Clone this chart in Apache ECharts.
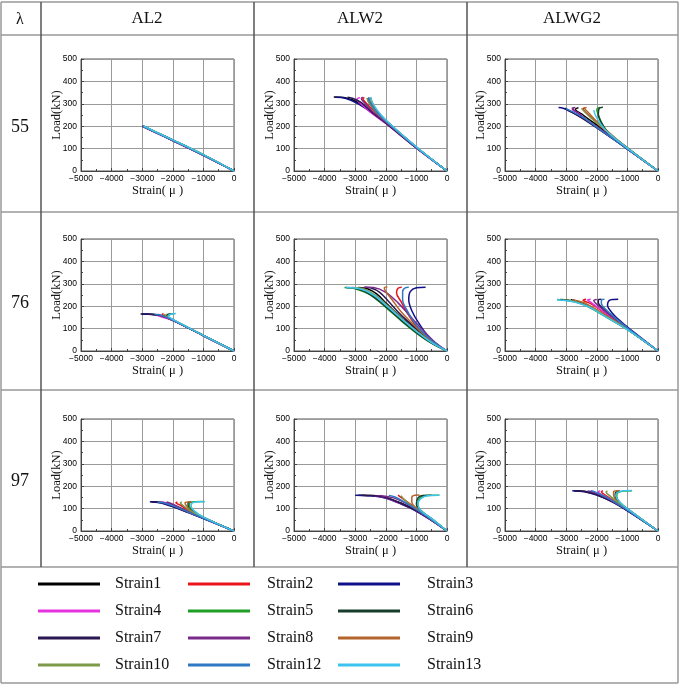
<!DOCTYPE html>
<html>
<head>
<meta charset="utf-8">
<script src="https://cdn.jsdelivr.net/npm/echarts@6/dist/echarts.min.js"></script>
<style>
html, body { margin: 0; padding: 0; background: #fff; }
#main { width: 680px; height: 692px; }
</style>
</head>
<body>
<div id="main"></div>
<script>
// 凡例と色
var strainNames = ['Strain1', 'Strain2', 'Strain3', 'Strain4', 'Strain5', 'Strain6',
  'Strain7', 'Strain8', 'Strain9', 'Strain10', 'Strain12', 'Strain13'];
var strainColors = ['#000000', '#e8151b', '#10108a', '#e633e0', '#1e9e24', '#173d2c',
  '#2a1650', '#7b2a8c', '#b4642c', '#7c9a48', '#2e78c4', '#3cc4ee'];
var specimens = ['AL2', 'ALW2', 'ALWG2'];
var lambdas = ['55', '76', '97'];
var strainRange = [-5000, 0];
var loadRange = [0, 500];

// 各グラフのデータ [strain(μ), load(kN)]
var al2_55 = [
  [[0,0],[-1000,71],[-2000,137],[-2500,169],[-2980,200]],
  [[0,0],[-1000,72],[-2000,138],[-2500,170],[-2960,200]],
  [[0,0],[-1000,70],[-2000,136],[-2500,168],[-3000,200]],
  [[0,0],[-1000,70],[-2000,135],[-2500,167],[-2990,199]],
  [[0,0],[-1000,73],[-2000,139],[-2500,171],[-2950,200]],
  [[0,0],[-1000,72],[-2000,139],[-2500,170],[-2960,200]],
  [[0,0],[-1000,70],[-2000,136],[-2500,168],[-2990,200]],
  [[0,0],[-1000,71],[-2000,137],[-2500,169],[-2980,200]],
  [[0,0],[-1000,72],[-2000,138],[-2500,170],[-2970,200]],
  [[0,0],[-1000,72],[-2000,138],[-2500,170],[-2970,200]],
  [[0,0],[-1000,71],[-2000,137],[-2500,169],[-2980,200]],
  [[0,0],[-1000,73],[-2000,139],[-2500,171],[-2950,201]]
];
var alw2_55 = [
  [[0,0],[-1000,104],[-2000,218],[-2400,258],[-2900,305],[-3300,326],[-3700,330]],
  [[0,0],[-1000,106],[-2000,222],[-2400,270],[-2650,305],[-2750,322],[-2700,328]],
  [[0,0],[-1000,103],[-2000,215],[-2400,255],[-2900,300],[-3300,324],[-3650,329]],
  [[0,0],[-1000,102],[-2000,212],[-2500,262],[-2800,298],[-2950,320],[-2850,328]],
  [[0,0],[-1000,107],[-2000,225],[-2300,268],[-2500,305],[-2560,326]],
  [[0,0],[-1000,106],[-2000,224],[-2350,270],[-2550,305],[-2600,325]],
  [[0,0],[-1000,103],[-2000,214],[-2450,262],[-2800,305],[-3100,325],[-3250,329]],
  [[0,0],[-1000,104],[-2000,218],[-2450,268],[-2700,305],[-2800,324],[-2750,330]],
  [[0,0],[-1000,107],[-2000,226],[-2300,272],[-2450,305],[-2500,328]],
  [[0,0],[-1000,106],[-2000,222],[-2350,268],[-2550,305],[-2620,326]],
  [[0,0],[-1000,105],[-2000,224],[-2350,272],[-2520,308],[-2560,330]],
  [[0,0],[-1000,108],[-2000,228],[-2300,275],[-2450,310],[-2480,330]]
];
var alwg2_55 = [
  [[0,0],[-1000,100],[-1800,185],[-2200,225],[-2500,255],[-2700,275],[-2600,282]],
  [[0,0],[-1000,101],[-1800,190],[-2100,228],[-2350,260],[-2450,278],[-2380,283]],
  [[0,0],[-1000,98],[-2000,195],[-2500,240],[-2900,268],[-3100,280],[-3250,283]],
  [[0,0],[-1000,99],[-1900,185],[-2300,225],[-2600,258],[-2800,275],[-2750,281]],
  [[0,0],[-1000,103],[-1600,170],[-1800,205],[-1950,250],[-2000,275],[-1900,284]],
  [[0,0],[-1000,103],[-1650,175],[-1850,215],[-1950,255],[-1920,280],[-1800,285]],
  [[0,0],[-1000,98],[-2000,192],[-2500,237],[-2850,265],[-3050,280]],
  [[0,0],[-1000,99],[-1900,188],[-2350,230],[-2650,262],[-2800,280],[-2700,283]],
  [[0,0],[-1000,102],[-1800,195],[-2100,235],[-2300,265],[-2400,280],[-2330,284]],
  [[0,0],[-1000,101],[-1800,192],[-2150,232],[-2400,265],[-2500,280]],
  [[0,0],[-1000,99],[-2000,195],[-2400,235],[-2800,265],[-3000,278]],
  [[0,0],[-1000,102],[-1700,180],[-1900,215],[-2050,250],[-2100,272]]
];
var al2_76 = [
  [[0,0],[-1000,69],[-2000,137],[-2400,158],[-2700,164],[-3050,165]],
  [[0,0],[-1000,69],[-2000,138],[-2300,155],[-2350,163],[-2300,167]],
  [[0,0],[-1000,68],[-2000,137],[-2400,158],[-2800,164],[-3000,165]],
  [[0,0],[-1000,68],[-2000,136],[-2400,154],[-2500,160],[-2450,165]],
  [[0,0],[-1000,70],[-2000,140],[-2150,155],[-2100,163],[-1950,166]],
  [[0,0],[-1000,70],[-2000,140],[-2200,156],[-2150,164],[-2050,166]],
  [[0,0],[-1000,68],[-2000,137],[-2400,158],[-2900,165]],
  [[0,0],[-1000,69],[-2000,137],[-2350,156],[-2450,162]],
  [[0,0],[-1000,70],[-2000,139],[-2250,157],[-2300,164]],
  [[0,0],[-1000,70],[-2000,139],[-2250,157],[-2200,165]],
  [[0,0],[-1000,69],[-2000,138],[-2350,158],[-2600,164]],
  [[0,0],[-1000,70],[-2000,141],[-2150,157],[-2050,165],[-1900,167]]
];
var alw2_76 = [
  [[0,0],[-500,40],[-1000,95],[-1500,150],[-2000,215],[-2300,255],[-2600,278],[-2900,284]],
  [[0,0],[-500,45],[-1000,110],[-1300,170],[-1500,220],[-1650,260],[-1600,280],[-1480,285]],
  [[0,0],[-500,48],[-900,120],[-1150,180],[-1250,230],[-1200,265],[-1000,282],[-700,285]],
  [[0,0],[-500,36],[-1000,85],[-1500,140],[-2000,200],[-2500,255],[-2900,280],[-3100,284]],
  [[0,0],[-500,34],[-1000,80],[-1500,135],[-2000,195],[-2500,250],[-3000,278],[-3350,284]],
  [[0,0],[-500,35],[-1000,82],[-1500,138],[-2000,198],[-2500,252],[-2900,277],[-3300,284]],
  [[0,0],[-500,42],[-1000,100],[-1500,160],[-1900,220],[-2200,262],[-2500,282],[-2700,285]],
  [[0,0],[-400,40],[-800,95],[-1200,155],[-1600,215],[-2000,262],[-2400,283],[-2700,285]],
  [[0,0],[-500,44],[-1000,105],[-1500,175],[-1800,230],[-2000,265],[-2050,282],[-1950,286]],
  [[0,0],[-500,38],[-1000,90],[-1500,148],[-2000,210],[-2400,255],[-2800,280],[-3200,284]],
  [[0,0],[-500,47],[-1000,115],[-1300,180],[-1450,230],[-1450,265],[-1350,283],[-1250,285]],
  [[0,0],[-500,37],[-1000,88],[-1500,145],[-2000,205],[-2400,250],[-2800,276],[-3300,283]]
];
var alwg2_76 = [
  [[0,0],[-1000,97],[-1600,150],[-2000,180],[-2400,208],[-2700,225],[-2850,229]],
  [[0,0],[-1000,99],[-1600,155],[-1900,185],[-2200,212],[-2450,227],[-2350,231]],
  [[0,0],[-800,85],[-1200,130],[-1500,170],[-1650,205],[-1600,225],[-1450,230],[-1300,231]],
  [[0,0],[-1000,100],[-1600,158],[-1950,192],[-2200,218],[-2300,228],[-2200,231]],
  [[0,0],[-1000,95],[-1800,160],[-2200,192],[-2600,215],[-3000,226],[-3300,230]],
  [[0,0],[-1000,96],[-1800,162],[-2200,195],[-2600,217],[-2900,227],[-3200,230]],
  [[0,0],[-1000,102],[-1500,155],[-1800,190],[-1950,215],[-1950,228],[-1850,231]],
  [[0,0],[-1000,101],[-1500,152],[-1800,185],[-2000,208],[-2100,225],[-2000,230]],
  [[0,0],[-1000,98],[-1700,158],[-2100,192],[-2400,214],[-2700,226],[-2800,229]],
  [[0,0],[-1000,96],[-1800,163],[-2300,200],[-2700,220],[-3100,228]],
  [[0,0],[-1000,103],[-1400,148],[-1700,185],[-1850,212],[-1850,227],[-1750,231]],
  [[0,0],[-1000,95],[-1800,160],[-2200,193],[-2700,218],[-3300,229]]
];
var al2_97 = [
  [[0,0],[-1000,58],[-1500,85],[-1800,105],[-2200,125],[-2700,131]],
  [[0,0],[-1000,60],[-1500,92],[-1750,115],[-1900,126],[-1850,130]],
  [[0,0],[-1000,56],[-1500,82],[-2000,108],[-2400,125],[-2750,131]],
  [[0,0],[-1000,57],[-1500,84],[-1900,108],[-2200,124],[-2400,129]],
  [[0,0],[-1000,62],[-1300,88],[-1450,110],[-1450,125],[-1300,131],[-1000,132]],
  [[0,0],[-1000,61],[-1350,88],[-1500,110],[-1500,127],[-1400,130]],
  [[0,0],[-1000,56],[-1500,83],[-2000,110],[-2400,127],[-2700,131]],
  [[0,0],[-1000,58],[-1500,86],[-1850,110],[-2100,125],[-2200,129]],
  [[0,0],[-1000,61],[-1400,90],[-1550,112],[-1600,125],[-1500,130],[-1400,129]],
  [[0,0],[-1000,60],[-1400,88],[-1650,112],[-1750,126],[-1700,130]],
  [[0,0],[-1000,57],[-1500,85],[-1950,110],[-2300,126],[-2500,130]],
  [[0,0],[-1000,62],[-1300,90],[-1400,112],[-1350,127],[-1150,131],[-950,131]]
];
var alw2_97 = [
  [[0,0],[-500,48],[-1000,92],[-1500,125],[-2000,150],[-2500,159],[-2900,160]],
  [[0,0],[-500,52],[-1000,100],[-1300,130],[-1500,150],[-1600,160]],
  [[0,0],[-500,46],[-1000,88],[-1500,120],[-2000,146],[-2500,157],[-3000,160]],
  [[0,0],[-500,47],[-1000,90],[-1500,122],[-2000,148],[-2300,157],[-2400,159]],
  [[0,0],[-500,55],[-800,85],[-950,115],[-900,145],[-700,158],[-400,160],[-250,160]],
  [[0,0],[-500,54],[-850,90],[-1000,120],[-950,148],[-800,159],[-500,160]],
  [[0,0],[-500,47],[-1000,90],[-1500,123],[-2000,149],[-2400,158],[-2800,160]],
  [[0,0],[-500,49],[-1000,95],[-1400,128],[-1800,150],[-2200,159]],
  [[0,0],[-500,53],[-1000,103],[-1150,130],[-1150,150],[-1050,160],[-900,161]],
  [[0,0],[-500,51],[-1000,98],[-1300,128],[-1450,148],[-1500,158]],
  [[0,0],[-500,50],[-1000,96],[-1400,130],[-1700,152],[-1900,159]],
  [[0,0],[-500,55],[-850,90],[-950,118],[-850,145],[-600,158],[-250,160]]
];
var alwg2_97 = [
  [[0,0],[-1000,92],[-1500,133],[-2000,163],[-2400,177],[-2750,180]],
  [[0,0],[-1000,96],[-1500,140],[-1750,163],[-1850,175],[-1800,180]],
  [[0,0],[-1000,90],[-1500,130],[-2000,160],[-2400,175],[-2800,180]],
  [[0,0],[-1000,94],[-1500,137],[-1800,160],[-1950,174],[-1900,180]],
  [[0,0],[-1000,100],[-1250,128],[-1350,155],[-1300,172],[-1100,179],[-850,180]],
  [[0,0],[-1000,99],[-1300,130],[-1400,155],[-1380,172],[-1250,179]],
  [[0,0],[-1000,91],[-1500,131],[-2000,162],[-2400,176],[-2700,180]],
  [[0,0],[-1000,93],[-1500,135],[-1900,163],[-2200,176],[-2300,179]],
  [[0,0],[-1000,98],[-1350,135],[-1450,160],[-1450,175],[-1350,180],[-1250,180]],
  [[0,0],[-1000,97],[-1400,137],[-1600,160],[-1700,174],[-1650,179]],
  [[0,0],[-1000,93],[-1500,136],[-1900,165],[-2100,177],[-2200,180]],
  [[0,0],[-1000,100],[-1250,130],[-1380,158],[-1320,172],[-1100,180],[-850,181]]
];

var panels = [al2_55, alw2_55, alwg2_55, al2_76, alw2_76, alwg2_76, al2_97, alw2_97, alwg2_97];

var myChart = echarts.init(document.getElementById('main'));

var colLeft = [81, 294, 505];
var rowTop = [59, 239, 419];
var serif = 'Liberation Serif';

var grids = [], xAxes = [], yAxes = [], series = [];
panels.forEach(function (panel, i) {
  var r = Math.floor(i / 3), c = i % 3;
  grids.push({
    left: colLeft[c], top: rowTop[r], width: 153, height: 112,
    show: true, borderColor: '#555', borderWidth: 1
  });
  xAxes.push({
    gridIndex: i, type: 'value', min: strainRange[0], max: strainRange[1], interval: 1000,
    name: 'Strain( μ )', nameLocation: 'middle', nameGap: 11,
    nameTextStyle: { fontFamily: serif, fontSize: 12.5, color: '#111' },
    axisLine: { show: true, onZero: false, lineStyle: { color: '#444' } },
    axisTick: { show: true, inside: true, length: 3, lineStyle: { color: '#444' } },
    minorTick: { show: true, splitNumber: 2, length: 2, lineStyle: { color: '#444' } },
    axisLabel: { fontSize: 8.5, fontFamily: 'Liberation Sans', color: '#000', margin: 3,
      formatter: function (v) { return String(v).replace('-', '−'); } },
    splitLine: { show: true, lineStyle: { color: '#9a9a9a', width: 1 } }
  });
  yAxes.push({
    gridIndex: i, type: 'value', min: loadRange[0], max: loadRange[1], interval: 100,
    name: 'Load(kN)', nameLocation: 'middle', nameGap: 18, nameRotate: 90,
    nameMoveOverlap: false,
    nameTextStyle: { fontFamily: serif, fontSize: 12.5, color: '#111' },
    axisLine: { show: true, onZero: false, lineStyle: { color: '#444' } },
    axisTick: { show: true, inside: true, length: 3, lineStyle: { color: '#444' } },
    minorTick: { show: true, splitNumber: 2, length: 2, lineStyle: { color: '#444' } },
    axisLabel: { fontSize: 8.5, fontFamily: 'Liberation Sans', color: '#000', margin: 4 },
    splitLine: { show: true, lineStyle: { color: '#9a9a9a', width: 1 } }
  });
  panel.forEach(function (pts, k) {
    series.push({
      name: strainNames[k], type: 'line', xAxisIndex: i, yAxisIndex: i,
      data: pts, showSymbol: false, smooth: 0.35, animation: false,
      lineStyle: { color: strainColors[k], width: 1.5 },
      itemStyle: { color: strainColors[k] }
    });
  });
});

// 表の罫線
var gray = '#999', dark = '#555';
var tableLines = [
  [1, 2, 678, 2, gray], [1, 35, 678, 35, gray], [1, 212, 678, 212, gray],
  [1, 390, 678, 390, gray], [1, 567, 678, 567, gray], [1, 683, 678, 683, gray],
  [1, 2, 1, 683, gray], [678, 2, 678, 683, gray],
  [41, 2, 41, 567, dark], [254, 2, 254, 567, dark], [467, 2, 467, 567, dark]
];
var graphics = tableLines.map(function (l) {
  return { type: 'line', shape: { x1: l[0], y1: l[1], x2: l[2], y2: l[3] },
    style: { stroke: l[4], lineWidth: 1.5 }, silent: true };
});
var headX = [147, 360, 572];
graphics.push({ type: 'text', x: 20, y: 20,
  style: { text: 'λ', font: '16px ' + serif, fill: '#111', align: 'center', verticalAlign: 'middle' } });
specimens.forEach(function (s, c) {
  graphics.push({ type: 'text', x: headX[c], y: 19,
    style: { text: s, font: '17px ' + serif, fill: '#111', align: 'center', verticalAlign: 'middle' } });
});
var rowY = [127, 303, 481];
lambdas.forEach(function (s, r) {
  graphics.push({ type: 'text', x: 20, y: rowY[r],
    style: { text: s, font: '18px ' + serif, fill: '#111', align: 'center', verticalAlign: 'middle' } });
});

// 凡例 (3列)
var legendLeft = [33, 183, 333];
var legendPad = [10, 12, 22];
var legends = [0, 1, 2].map(function (c) {
  return {
    orient: 'vertical', left: legendLeft[c], top: 571, selectedMode: false,
    data: [strainNames[c], strainNames[c + 3], strainNames[c + 6], strainNames[c + 9]],
    icon: 'rect', itemWidth: 62, itemHeight: 3, itemGap: 11,
    textStyle: { fontFamily: serif, fontSize: 16, color: '#111', lineHeight: 16,
      padding: [0, 0, 0, legendPad[c]] }
  };
});

myChart.setOption({
  animation: false,
  grid: grids,
  xAxis: xAxes,
  yAxis: yAxes,
  legend: legends,
  graphic: graphics,
  series: series
});
</script>
</body>
</html>
